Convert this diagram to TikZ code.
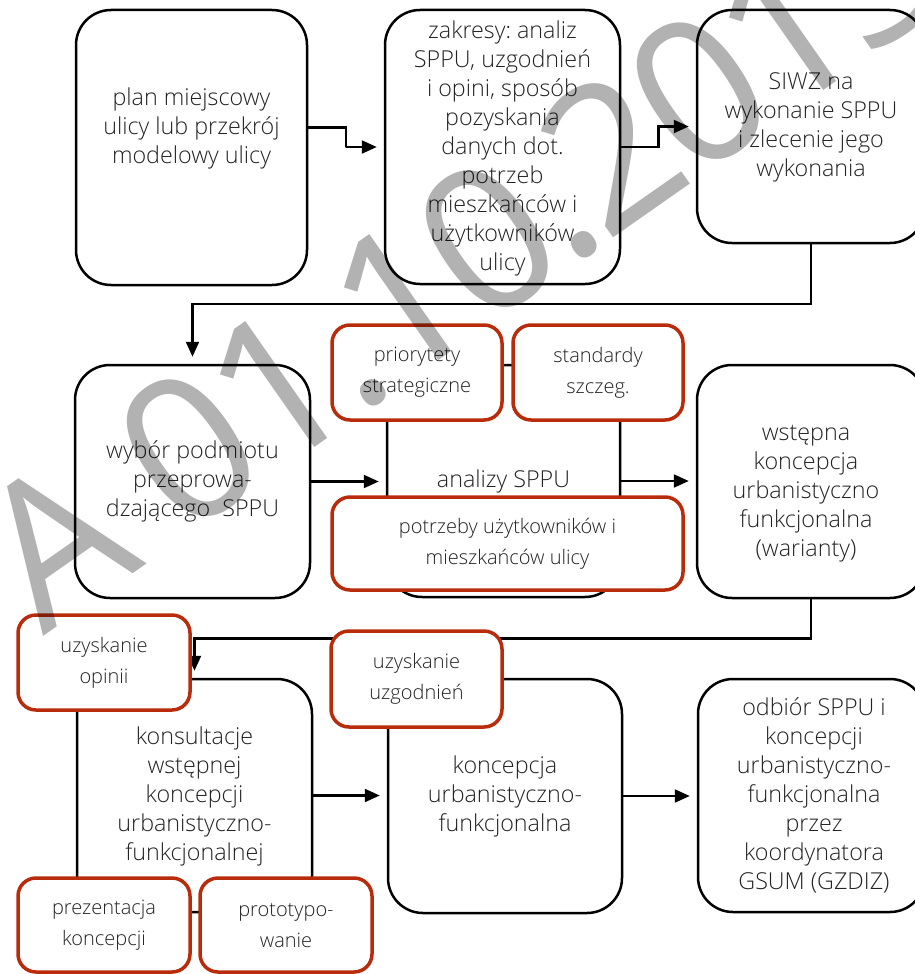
\documentclass[tikz,border=0pt]{standalone}
\usepackage{fontspec}
\IfFontExistsTF{Open Sans Light}{\setmainfont{Open Sans Light}}{\setmainfont{Open Sans}}
\newfontfamily\stampfont{Open Sans}[LetterSpace=-4]
\frenchspacing
\usetikzlibrary{arrows.meta,calc}
\definecolor{boxred}{RGB}{184,44,12}
\definecolor{inkgray}{RGB}{34,34,34}
\begin{document}
\begin{tikzpicture}[x=1pt,y=-1pt,
  stage/.style={draw=black,line width=2.5pt,rounded corners=35pt,inner sep=0pt},
  stagetext/.style={text=inkgray,font=\fontsize{23.3}{29}\selectfont,align=center,inner sep=0pt},
  extra/.style={draw=boxred,fill=white,line width=3.5pt,rounded corners=18pt,inner sep=0pt,
    text=inkgray,font=\fontsize{20}{31}\selectfont,align=center},
  conn/.style={line width=2.2pt,-{Triangle[length=15pt,width=13pt]},shorten >=7pt},
  stamp/.style={font=\stampfont\fontsize{200}{200}\selectfont,text=black,text opacity=0.3,
    inner sep=0pt,anchor=base west}
]
\useasboundingbox (0,0) rectangle (915,974);
\clip (0,0) rectangle (915,974);

% process stages
\node[stage,minimum width=231pt,minimum height=275pt] (b1) at (191.5,147.5) {};
\node[stage,minimum width=235pt,minimum height=274pt] (b2) at (502.5,147) {};
\node[stage,minimum width=228pt,minimum height=233pt] (b3) at (811,126.5) {};
\node[stage,minimum width=235pt,minimum height=233pt] (b4) at (192.5,481.5) {};
\node[stage,minimum width=233pt,minimum height=232pt] (b5) at (503.5,481) {};
\node[stage,minimum width=228pt,minimum height=233pt] (b6) at (811,481.5) {};
\node[stage,minimum width=235pt,minimum height=233pt] (b7) at (194.5,795.5) {};
\node[stage,minimum width=234pt,minimum height=234pt] (b8) at (505,796) {};
\node[stage,minimum width=227pt,minimum height=233pt] (b9) at (811.5,795.5) {};

% flow between stages
\draw[conn] ($(b1.east)+(0,-20)$) -| ($(b1.east)!0.5!(b2.west)$) |- (b2.west);
\draw[conn] (b2.east) -| ($(b2.east)!0.5!(b3.west)$) |- (b3.west);
\draw[conn] (b3.south) |- ($(b3.south)!0.5!(b4.north)$) -| (b4.north);
\draw[conn] (b4.east) -- (b4.east -| b5.west);
\draw[conn] (b5.east) -- (b5.east -| b6.west);
\draw[conn] (b6.south) |- ($(b6.south)!0.5!(b7.north)$) -| (b7.north);
\draw[conn] (b7.east) -- (b7.east -| b8.west);
\draw[conn] (b8.east) -- (b8.east -| b9.west);

% stage descriptions
\node[stagetext] (t1) at (191.5,128) {plan miejscowy\\ulicy lub przekrój\\modelowy ulicy};
\node[stagetext] (t2) at (502.5,148) {zakresy: analiz\\SPPU, uzgodnień\\i opini, sposób\\pozyskania\\danych dot.\\potrzeb\\mieszkańców i\\użytkowników\\ulicy};
\node[stagetext] (t3) at (811,127) {SIWZ na\\wykonanie SPPU\\i zlecenie jego\\wykonania};
\node[stagetext] (t4) at (192.5,481.5) {wybór podmiotu\\przeprowa-\\dzającego~ SPPU};
\node[stagetext] (t5) at (503.5,481) {analizy SPPU};
\node[stagetext] (t6) at (806,494) {wstępna\\koncepcja\\urbanistyczno\\funkcjonalna\\(warianty)};
\node[stagetext] (t7) at (194.5,796) {konsultacje\\wstępnej\\koncepcji\\urbanistyczno-\\funkcjonalnej};
\node[stagetext] (t8) at (505,796) {koncepcja\\urbanistyczno-\\funkcjonalna};
\node[stagetext] (t9) at (814,795.5) {odbiór SPPU i\\koncepcji\\urbanistyczno-\\funkcjonalna\\przez\\koordynatora\\GSUM (GZDIZ)};

% supporting activities
\node[extra,minimum width=170pt,minimum height=95pt] (r1) at (417,372.5) {priorytety\\strategiczne};
\node[extra,minimum width=170pt,minimum height=95pt] (r2) at (598,372.5) {standardy\\szczeg.};
\node[extra,minimum width=351pt,minimum height=93pt] (r3) at (507.5,543.5) {potrzeby użytkowników i\\mieszkańców ulicy};
\node[extra,minimum width=172pt,minimum height=95pt] (r4) at (104,662.5) {uzyskanie\\opinii};
\node[extra,minimum width=172pt,minimum height=94pt] (r5) at (104,925) {prezentacja\\koncepcji};
\node[extra,minimum width=172pt,minimum height=94pt] (r6) at (286,925) {prototypo-\\wanie};
\node[extra,minimum width=171pt,minimum height=96pt] (r7) at (416.5,679) {uzyskanie\\uzgodnień};

% date stamp across the sheet
\node[stamp,rotate=35] (stampdate) at (43,637) {A 01.10.2013};
\end{tikzpicture}
\end{document}
